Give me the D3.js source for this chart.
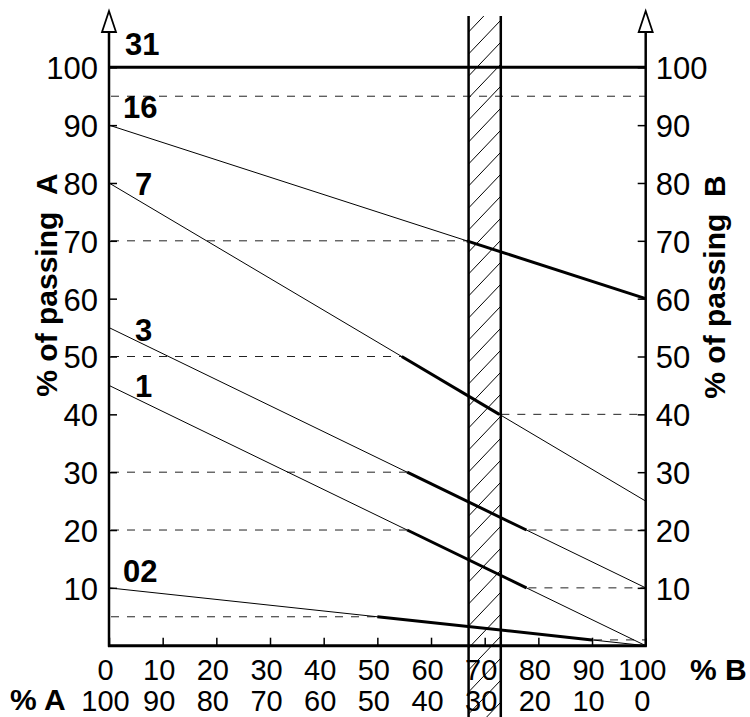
<!DOCTYPE html>
<html>
<head>
<meta charset="utf-8">
<script src="https://cdn.jsdelivr.net/npm/d3@7"></script>
<style>
  html, body { margin: 0; padding: 0; background: #fff; }
  svg { display: block; font-family: "Liberation Sans", Arial, sans-serif; }
</style>
</head>
<body>
<div id="chart"></div>
<script>
// ------------------------------------------------------------
// Data
// ------------------------------------------------------------
const curveNames = ["31", "16", "7", "3", "1", "02"];
const passingAtA = [100, 90, 80, 55, 45, 10];   // % of passing A (at 0 % B)
const passingAtB = [100, 60, 25, 10, 0, 0];     // % of passing B (at 100 % B)
const thickFrom = [100, 70, 50, 30, 20, 5];     // bold part starts at this level
const thickTo = [100, 60, 40, 20, 10, 1];       // ...and ends at this level
const extraGuides = [95];
const bandRange = [67, 73];
const yTicks = [10, 20, 30, 40, 50, 60, 70, 80, 90, 100];
const xTicksB = [0, 10, 20, 30, 40, 50, 60, 70, 80, 90, 100];
const xTicksA = [100, 90, 80, 70, 60, 50, 40, 30, 20, 10, 0];

// ------------------------------------------------------------
// Setup
// ------------------------------------------------------------
const width = 750, height = 717;
const x = d3.scaleLinear().domain([0, 100]).range([109, 645.7]);
const xA = d3.scaleLinear().domain([100, 0]).range([109, 645.7]);
const y = d3.scaleLinear().domain([0, 100]).range([645.7, 67.3]);

const svg = d3.select("#chart")
    .append("svg")
    .attr("width", width)
    .attr("height", height);

const curves = curveNames.map((name, i) => ({
    name: name,
    a: passingAtA[i],
    b: passingAtB[i],
    from: thickFrom[i],
    to: thickTo[i]
}));

// value of a curve at some % B
function valueAt(c, xb) {
    return c.a + (c.b - c.a) * xb / 100;
}

// % B where a curve reaches a level
function crossAt(c, v) {
    if (c.a === c.b) return null;
    return (c.a - v) / (c.a - c.b) * 100;
}

// ------------------------------------------------------------
// Dashed guides
// ------------------------------------------------------------
const guides = [];
extraGuides.forEach(v => guides.push({ v: v, x0: 0, x1: 100 }));
curves.forEach(c => {
    if (c.a === c.b) return;
    guides.push({ v: c.from, x0: 0, x1: crossAt(c, c.from) });
    guides.push({ v: c.to, x0: crossAt(c, c.to), x1: 100 });
});

svg.append("g")
    .selectAll("line")
    .data(guides.filter(d => d.x1 - d.x0 > 0.5))
    .enter()
    .append("line")
    .attr("x1", d => x(d.x0) + 2)
    .attr("x2", d => x(d.x1))
    .attr("y1", d => y(d.v))
    .attr("y2", d => y(d.v))
    .attr("stroke", "#222")
    .attr("stroke-width", 1)
    .attr("stroke-dasharray", "8,8");

// ------------------------------------------------------------
// Curves: thin full line + bold section
// ------------------------------------------------------------
const line = d3.line().x(d => x(d[0])).y(d => y(d[1]));

svg.append("g")
    .selectAll("path")
    .data(curves)
    .enter()
    .append("path")
    .attr("d", c => line([[0, c.a], [100, c.b]]))
    .attr("fill", "none")
    .attr("stroke", "#000")
    .attr("stroke-width", 1);

svg.append("g")
    .selectAll("path")
    .data(curves)
    .enter()
    .append("path")
    .attr("d", c => {
        const s = c.a === c.b ? 0 : crossAt(c, c.from);
        const e = c.a === c.b ? 100 : crossAt(c, c.to);
        return line([[s, valueAt(c, s)], [e, valueAt(c, e)]]);
    })
    .attr("fill", "none")
    .attr("stroke", "#000")
    .attr("stroke-width", 3);

// curve names
const labelDx = { "31": 16, "16": 14, "7": 26, "3": 26, "1": 26, "02": 14 };
const labelDy = { "31": -12, "16": -7, "7": 12, "3": 13, "1": 12, "02": -6 };

svg.append("g")
    .selectAll("text")
    .data(curves)
    .enter()
    .append("text")
    .text(c => c.name)
    .attr("x", c => x(0) + labelDx[c.name])
    .attr("y", c => y(c.a) + labelDy[c.name])
    .attr("font-size", "31px")
    .attr("font-weight", "bold");

// ------------------------------------------------------------
// Hatched band
// ------------------------------------------------------------
const bx0 = x(bandRange[0]), bx1 = x(bandRange[1]);

svg.append("clipPath")
    .attr("id", "bandClip")
    .append("rect")
    .attr("x", bx0)
    .attr("y", 16)
    .attr("width", bx1 - bx0)
    .attr("height", height - 16);

const hatchY = d3.range(10, height + 60, 22);
svg.append("g")
    .attr("clip-path", "url(#bandClip)")
    .selectAll("line")
    .data(hatchY)
    .enter()
    .append("line")
    .attr("x1", bx0)
    .attr("x2", bx1)
    .attr("y1", d => d)
    .attr("y2", d => d - (bx1 - bx0) * 1.05)
    .attr("stroke", "#000")
    .attr("stroke-width", 1);

svg.append("g")
    .selectAll("line")
    .data(bandRange)
    .enter()
    .append("line")
    .attr("x1", d => x(d))
    .attr("x2", d => x(d))
    .attr("y1", 16)
    .attr("y2", height)
    .attr("stroke", "#000")
    .attr("stroke-width", 2.5);

// ------------------------------------------------------------
// Axes
// ------------------------------------------------------------
function styleAxis(g, size) {
    g.select(".domain").remove();
    g.selectAll("line").attr("stroke", "#000").attr("stroke-width", 1.5);
    g.selectAll("text")
        .attr("fill", "#000")
        .attr("font-size", size)
        .attr("font-family", "'Liberation Sans', Arial, sans-serif");
}

svg.append("g")
    .attr("transform", `translate(${x(0)},0)`)
    .call(d3.axisLeft(y).tickValues(yTicks).tickSize(-8).tickPadding(11))
    .call(styleAxis, "31px")
    .selectAll("text").attr("dy", "0.37em");

svg.append("g")
    .attr("transform", `translate(${x(100)},0)`)
    .call(d3.axisRight(y).tickValues(yTicks).tickSize(-8).tickPadding(10))
    .call(styleAxis, "31px")
    .selectAll("text").attr("dy", "0.37em");

svg.append("g")
    .attr("transform", `translate(0,${y(0)})`)
    .call(d3.axisBottom(x).tickValues(xTicksB).tickSize(-8).tickPadding(13))
    .call(styleAxis, "29px")
    .selectAll("text").attr("dx", -4).attr("dy", "0.72em");

svg.append("g")
    .attr("transform", `translate(0,${y(0)})`)
    .call(d3.axisBottom(xA).tickValues(xTicksA).tickSize(0).tickPadding(44))
    .call(styleAxis, "29px")
    .selectAll("text").attr("dx", -4).attr("dy", "0.72em");

// axis lines with open arrow heads
[x(0), x(100)].forEach(px => {
    svg.append("line")
        .attr("x1", px).attr("x2", px)
        .attr("y1", 31).attr("y2", y(0) + 1)
        .attr("stroke", "#000")
        .attr("stroke-width", 2.5);
    svg.append("path")
        .attr("d", `M${px},11L${px - 7},32L${px + 7},32Z`)
        .attr("fill", "#fff")
        .attr("stroke", "#000")
        .attr("stroke-width", 1.8)
        .attr("stroke-linejoin", "miter");
});

svg.append("line")
    .attr("x1", x(0) - 1).attr("x2", x(100) + 1)
    .attr("y1", y(0)).attr("y2", y(0))
    .attr("stroke", "#000")
    .attr("stroke-width", 3);

// axis titles
svg.append("text")
    .text("% of passing\u00a0\u00a0A")
    .attr("transform", "translate(57,285) rotate(-90)")
    .attr("text-anchor", "middle")
    .attr("font-size", "30px")
    .attr("font-weight", "bold");

svg.append("text")
    .text("% of passing\u00a0\u00a0B")
    .attr("transform", "translate(725,287) rotate(-90)")
    .attr("text-anchor", "middle")
    .attr("font-size", "30px")
    .attr("font-weight", "bold");

svg.append("text")
    .text("% B")
    .attr("x", 690)
    .attr("y", 680)
    .attr("font-size", "30px")
    .attr("font-weight", "bold");

svg.append("text")
    .text("% A")
    .attr("x", 10)
    .attr("y", 710)
    .attr("font-size", "30px")
    .attr("font-weight", "bold");
</script>
</body>
</html>
